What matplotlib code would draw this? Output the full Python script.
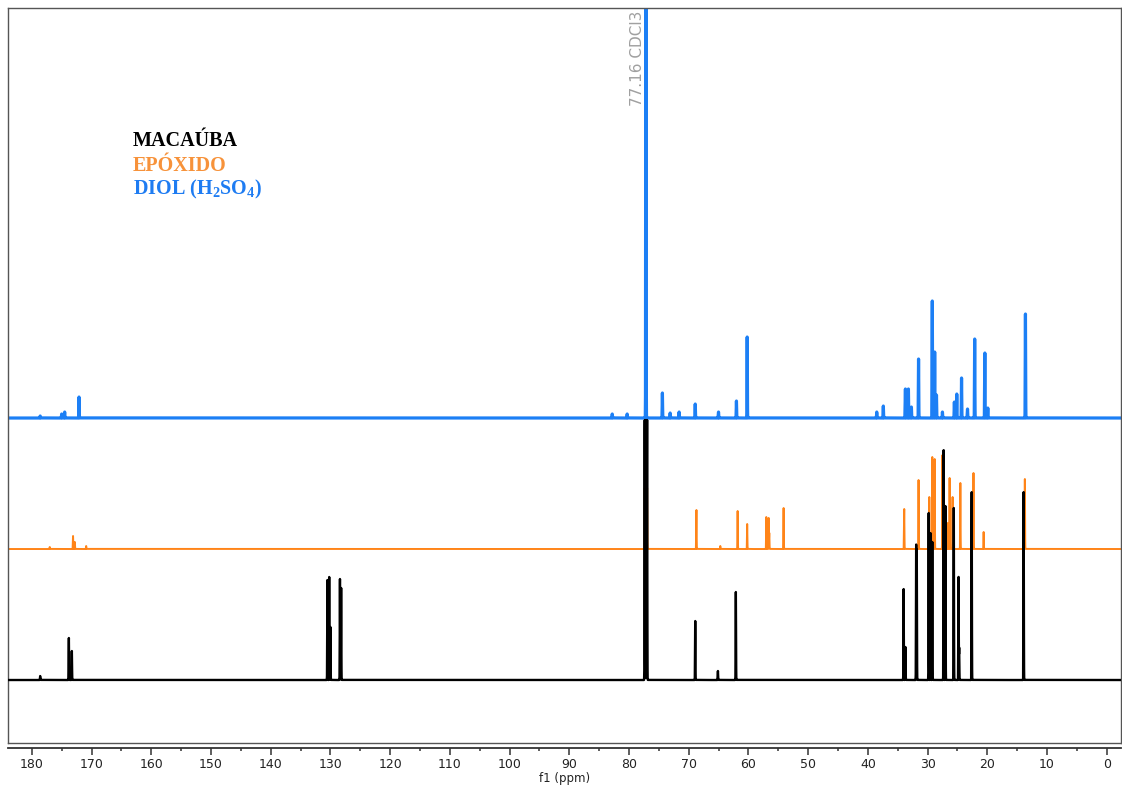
import numpy as np
import matplotlib.pyplot as plt
from matplotlib.ticker import MultipleLocator

plt.rcParams['mathtext.fontset'] = 'custom'
plt.rcParams['mathtext.rm'] = 'Liberation Serif:bold'
plt.rcParams['mathtext.bf'] = 'Liberation Serif:bold'

# peak lists (ppm, intensity in arbitrary units)
macauba_ppm = [178.6, 173.8, 173.3, 130.5, 130.2, 130.0, 128.4, 128.2,
               77.36, 77.16, 76.96, 68.9, 65.1, 62.1, 34.0, 33.7, 31.9, 31.8,
               29.8, 29.5, 29.2, 27.3, 27.0, 25.6, 24.8, 24.7, 22.6, 13.9]
macauba_int = [0.04, 0.42, 0.29, 1.00, 1.03, 0.53, 1.01, 0.92,
               2.60, 2.60, 2.60, 0.59, 0.09, 0.88, 0.91, 0.33, 1.35, 1.30,
               1.67, 1.47, 1.38, 2.30, 1.74, 1.72, 1.03, 0.32, 1.88, 1.88]

epoxido_ppm = [177.0, 173.1, 172.8, 170.9, 77.36, 77.16, 76.96, 68.7, 64.7,
               61.8, 60.2, 57.0, 56.6, 56.5, 54.1, 33.9, 31.5, 29.7, 29.2,
               28.8, 27.5, 26.6, 26.3, 25.8, 24.5, 22.3, 20.6, 13.7]
epoxido_int = [0.02, 0.13, 0.07, 0.03, 0.61, 0.61, 0.61, 0.39, 0.03,
               0.38, 0.25, 0.32, 0.31, 0.16, 0.41, 0.40, 0.69, 0.52, 0.92,
               0.90, 0.94, 0.26, 0.71, 0.52, 0.66, 0.76, 0.17, 0.70]

diol_ppm = [178.6, 175.0, 174.5, 172.1, 82.8, 80.3, 77.16,
            74.4, 73.1, 71.6, 68.9, 65.0, 62.0, 60.2, 38.5, 37.4, 33.7,
            33.2, 32.7, 31.5, 29.2, 28.8, 28.5, 27.5, 25.5, 25.1, 24.3,
            23.3, 22.1, 20.4, 19.9, 13.6]
diol_int = [0.02, 0.04, 0.06, 0.21, 0.04, 0.04, 6.0,
            0.25, 0.05, 0.06, 0.14, 0.06, 0.17, 0.81, 0.06, 0.12, 0.29,
            0.29, 0.11, 0.59, 1.17, 0.66, 0.23, 0.06, 0.16, 0.24, 0.40,
            0.09, 0.79, 0.65, 0.10, 1.04]

ppm_ticks = np.arange(0, 181, 10)
cdcl3_label = '77.16 CDCl3'


def spectrum(x, centers, heights, sigma=0.03):
    """sum of narrow gaussian lines"""
    y = np.zeros_like(x)
    for c, h in zip(centers, heights):
        y += h * np.exp(-0.5 * ((x - c) / sigma) ** 2)
    return y


x = np.linspace(-3, 185, 80000)

fig = plt.figure(figsize=(11.22, 7.87), dpi=100)
ax = fig.add_axes([0.0071, 0.0559, 0.992, 0.9339])

ax.plot(x, spectrum(x, diol_ppm, diol_int) + 2.62, color='#1c7ff5', lw=2.3, zorder=1)
ax.plot(x, spectrum(x, epoxido_ppm, epoxido_int) + 1.31, color='#ff8418', lw=1.4, zorder=2)
ax.plot(x, spectrum(x, macauba_ppm, macauba_int), color='black', lw=1.7, zorder=3)

ax.set_xlim(184.0, -2.4)
ax.set_ylim(-0.63, 6.72)

ax.text(78.6, 6.69, cdcl3_label, rotation=90, ha='center', va='top',
        color='#a0a0a0', fontsize=11, zorder=0)

# box plus a separate x axis underneath
for s in ['top', 'left', 'right']:
    ax.spines[s].set_color('#555555')
    ax.spines[s].set_linewidth(1.0)
ax.spines['bottom'].set_position(('outward', 3.6))
ax.spines['bottom'].set_color('#333333')
ax.spines['bottom'].set_linewidth(1.3)
ax.plot([0, 1], [0, 0], transform=ax.transAxes, color='#555555', lw=1.0, clip_on=False)

ax.set_yticks([])
ax.set_xticks(ppm_ticks)
ax.xaxis.set_minor_locator(MultipleLocator(5))
ax.tick_params(axis='x', which='major', length=5, width=1.1, color='#333333',
               labelsize=9, labelcolor='#222222', pad=2)
ax.tick_params(axis='x', which='minor', length=2.5, width=1.1, color='#333333')
ax.set_xlabel('f1 (ppm)', fontsize=8.5, color='#222222', labelpad=1)

fig.text(0.1185, 0.8208, 'MACAÚBA', family='Liberation Serif', weight='bold',
         fontsize=14.5, color='black', va='center')
fig.text(0.1185, 0.7891, 'EPÓXIDO', family='Liberation Serif', weight='bold',
         fontsize=14.5, color='#f7923a', va='center')
fig.text(0.1185, 0.7586, r'DIOL (H$_\mathbf{2}$SO$_\mathbf{4}$)', family='Liberation Serif',
         weight='bold', fontsize=14.5, color='#1e7cf2', va='center')

fig.savefig('out.png', dpi=100)
plt.close('all')
